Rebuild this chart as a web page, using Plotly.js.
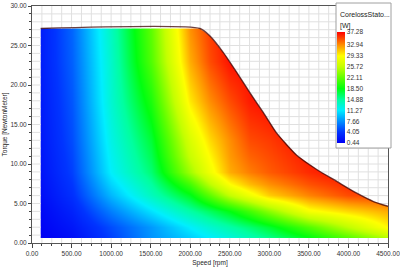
<!DOCTYPE html>
<html><head><meta charset="utf-8">
<script src="https://cdn.plot.ly/plotly-3.0.1.min.js"></script>
<style>html,body{margin:0;padding:0;background:#fff}#chart{width:400px;height:268px}</style>
</head><body><div id="chart"></div>
<script>
// ---- data ----
const speeds  = [110, 500, 1000, 1500, 2000, 2250, 2500, 2750, 3000, 3500, 4000, 4500];
const torques = [0.64, 2, 4, 6, 7.5, 9, 11, 13, 18, 23, 27.15];
const lossT064 = [0.44, 1.5, 4.5, 7.8, 10.0, 11.2, 12.5, 14.0, 15.3, 18.3, 21.5, 25.0];
const lossT2   = [0.7, 2.0, 5.0, 8.0, 11.3, 13.0, 14.5, 16.0, 17.6, 21.5, 25.5, 29.5];
const lossT4   = [1.0, 2.8, 7.0, 10.8, 14.6, 16.5, 18.5, 21.0, 23.6, 28.8, 30.5, 32.0];
const lossT6   = [1.4, 3.7, 9.2, 13.7, 18.2, 22.0, 25.8, 28.5, 30.9, 33.3, 35.0, 35.5];
const lossT75  = [1.6, 4.1, 10.3, 14.8, 21.0, 25.5, 29.3, 31.5, 32.9, 34.8, 36.0, 37.0];
const lossT9   = [1.8, 4.5, 11.4, 16.0, 24.4, 28.5, 32.0, 33.5, 34.5, 36.0, 37.0, 37.0];
const lossT11  = [1.95, 4.75, 11.8, 16.8, 26.0, 29.5, 32.6, 34.3, 35.0, 36.5, 37.0, 37.0];
const lossT13  = [2.1, 5.0, 12.2, 17.5, 27.0, 30.5, 33.0, 35.0, 35.5, 37.0, 37.0, 37.0];
const lossT18  = [2.3, 5.4, 13.0, 19.5, 30.0, 33.0, 35.0, 36.5, 37.0, 37.0, 37.0, 37.0];
const lossT23  = [2.5, 5.8, 13.3, 21.5, 32.0, 35.0, 36.8, 37.0, 37.0, 37.0, 37.0, 37.0];
const lossT27  = [2.5, 6.0, 13.7, 22.0, 32.9, 35.5, 37.0, 37.0, 37.0, 37.0, 37.0, 37.0];
const boundarySpeed  = [110, 2124, 2250, 2419, 2588, 2756, 2925, 3093, 3346, 3599, 3852, 4105, 4316, 4500];
const boundaryTorque = [27.15, 27.15, 26.2, 24.1, 21.6, 19.0, 16.5, 13.9, 11.1, 9.3, 7.8, 6.3, 5.25, 4.65];
const cbTickVals = [0.44, 4.05, 7.66, 11.27, 14.88, 18.50, 22.11, 25.72, 29.33, 32.94, 37.28];
const cbTickText = ["0.44","4.05","7.66","11.27","14.88","18.50","22.11","25.72","29.33","32.94","37.28"];
const cbTitle = "CorelossStato...";
const cbUnit = "[W]";
const xTitle = "Speed [rpm]";
const yTitle = "Torque [NewtonMeter]";

const loss = [lossT064, lossT2, lossT4, lossT6, lossT75, lossT9, lossT11, lossT13, lossT18, lossT23, lossT27];

// ---- geometry helpers ----
const XR = [0, 4500], YR = [0, 30];
const X_MINOR = 125, Y_MINOR = 1;
const regL = speeds[0], regR = speeds[speeds.length - 1], regB = torques[0];
const regTop = boundaryTorque[0];
const lastT = boundaryTorque[boundaryTorque.length - 1];

function boundaryAt(x) {
  for (let i = 0; i < boundarySpeed.length - 1; i++) {
    const a = boundarySpeed[i], b = boundarySpeed[i + 1];
    if (x >= a && x <= b) {
      const f = (x - a) / (b - a);
      return boundaryTorque[i] + f * (boundaryTorque[i + 1] - boundaryTorque[i]);
    }
  }
  return boundaryTorque[boundaryTorque.length - 1];
}
function boundarySpeedAt(y) {
  for (let i = 1; i < boundarySpeed.length - 1; i++) {
    const a = boundaryTorque[i], b = boundaryTorque[i + 1];
    if (y <= a && y >= b) {
      const f = (a - y) / (a - b);
      return boundarySpeed[i] + f * (boundarySpeed[i + 1] - boundarySpeed[i]);
    }
  }
  return regR;
}

// mask: everything in the plot outside the data region
const pad = 200;
const maskX = [XR[1] + pad, XR[1] + pad, XR[0] - pad, XR[0] - pad, XR[1] + pad, XR[1] + pad];
const maskY = [regB, YR[0] - 1, YR[0] - 1, YR[1] + 1, YR[1] + 1, lastT];
for (let i = boundarySpeed.length - 1; i >= 0; i--) { maskX.push(boundarySpeed[i]); maskY.push(boundaryTorque[i]); }
maskX.push(regL, regR, XR[1] + pad); maskY.push(regB, regB, regB);

// grid lines outside the region (region is opaque in the reference)
const gx = [], gy = [];
for (let x = X_MINOR; x < XR[1] - 1; x += X_MINOR) {
  if (x < regL) { gx.push(x, x, null); gy.push(YR[0], YR[1], null); }
  else {
    gx.push(x, x, null); gy.push(YR[0], regB, null);
    gx.push(x, x, null); gy.push(boundaryAt(x), YR[1], null);
  }
}
for (let y = Y_MINOR; y < YR[1] - 0.01; y += Y_MINOR) {
  if (y < regB || y > regTop) { gx.push(XR[0], XR[1], null); gy.push(y, y, null); }
  else {
    gx.push(XR[0], regL, null); gy.push(y, y, null);
    if (y > lastT) { gx.push(boundarySpeedAt(y), XR[1], null); gy.push(y, y, null); }
  }
}

const colorscale = [
  [0.000, '#0000f4'], [0.098, '#0034ff'], [0.196, '#0090ff'], [0.294, '#00eeff'],
  [0.392, '#00ffa0'], [0.490, '#00ff10'], [0.588, '#60ff00'], [0.686, '#c4ff00'],
  [0.784, '#ffff00'], [0.882, '#ff9000'], [1.000, '#ff0000']
];

const FONT = "Arial, 'Liberation Sans', sans-serif";
const PW = 356, PH = 237, ML = 32, MT = 6;
const px2x = p => (p - ML) / PW;
const py2y = p => (MT + PH - p) / PH;

const traces = [
  {
    type: 'heatmap', x: speeds, y: torques, z: loss, zsmooth: 'best',
    colorscale: colorscale, zmin: cbTickVals[0], zmax: cbTickVals[cbTickVals.length - 1],
    hoverinfo: 'skip',
    colorbar: {
      x: px2x(337), xanchor: 'left', xpad: 0,
      y: py2y(87.5), yanchor: 'middle', ypad: 0,
      len: 111, lenmode: 'pixels', thickness: 8, thicknessmode: 'pixels',
      tickmode: 'array', tickvals: cbTickVals, ticktext: cbTickText,
      ticks: '', tickfont: {family: FONT, size: 6.5, color: '#333'},
      outlinewidth: 0, borderwidth: 0, bgcolor: 'rgba(0,0,0,0)', title: {text: ''}
    }
  },
  { type: 'scatter', x: maskX, y: maskY, mode: 'none', fill: 'toself', fillcolor: '#ffffff', hoverinfo: 'skip', showlegend: false },
  { type: 'scatter', x: gx, y: gy, mode: 'lines', line: {color: '#e0e0e0', width: 1}, hoverinfo: 'skip', showlegend: false },
  { type: 'scatter', x: boundarySpeed, y: boundaryTorque, mode: 'lines', line: {color: 'rgba(60,0,0,0.75)', width: 1.4, shape: 'spline', smoothing: 0.6}, hoverinfo: 'skip', showlegend: false }
];

const axisCommon = {
  showline: true, linecolor: '#555', linewidth: 1, mirror: true,
  showgrid: false, zeroline: false, ticks: 'outside', tickcolor: '#444', tickwidth: 1,
  tickformat: '.2f', tickfont: {family: FONT, size: 6.5, color: '#333'}, ticklabeloverflow: 'allow'
};

const layout = {
  width: 400, height: 268,
  margin: {l: ML, r: 400 - ML - PW, t: MT, b: 268 - MT - PH, pad: 0},
  paper_bgcolor: '#fff', plot_bgcolor: '#fff',
  font: {family: FONT, size: 6.5, color: '#333'},
  showlegend: false,
  xaxis: Object.assign({}, axisCommon, {
    range: XR, tickmode: 'linear', tick0: 0, dtick: 500, ticklen: 4,
    minor: {dtick: X_MINOR, tick0: 0, ticks: 'outside', ticklen: 2, tickcolor: '#444', showgrid: false},
    title: {text: xTitle, font: {family: FONT, size: 6.5, color: '#222'}, standoff: 4}
  }),
  yaxis: Object.assign({}, axisCommon, {
    range: YR, tickmode: 'linear', tick0: 0, dtick: 5, ticklen: 3,
    minor: {dtick: Y_MINOR, tick0: 0, ticks: 'outside', ticklen: 2, tickcolor: '#444', showgrid: false},
    title: {text: yTitle, font: {family: FONT, size: 6.5, color: '#222'}, standoff: 2}
  }),
  shapes: [{
    type: 'rect', xref: 'paper', yref: 'paper', layer: 'above',
    x0: px2x(336), x1: px2x(391), y0: py2y(148), y1: py2y(3),
    fillcolor: '#ffffff', line: {color: '#a0a0a0', width: 1}
  }],
  annotations: [
    {xref: 'paper', yref: 'paper', x: px2x(338), y: py2y(15), xanchor: 'left', yanchor: 'middle', showarrow: false,
     text: cbTitle, font: {family: FONT, size: 7, color: '#222'}},
    {xref: 'paper', yref: 'paper', x: px2x(338), y: py2y(25.5), xanchor: 'left', yanchor: 'middle', showarrow: false,
     text: cbUnit, font: {family: FONT, size: 7, color: '#222'}}
  ]
};

Plotly.newPlot('chart', traces, layout, {staticPlot: true, displayModeBar: false});
</script>
</body></html>
